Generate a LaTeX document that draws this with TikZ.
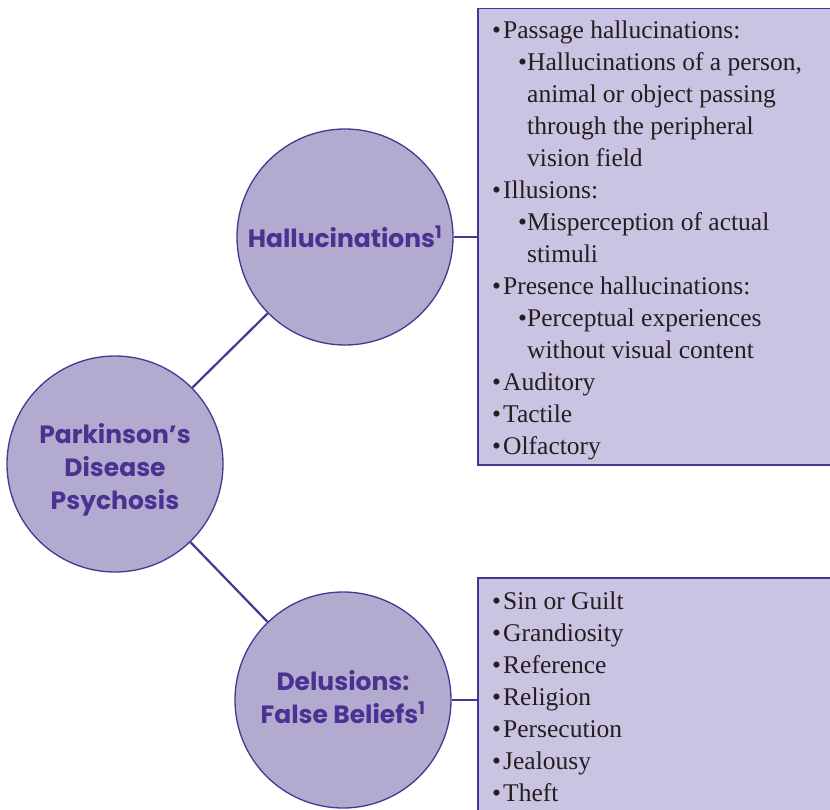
\documentclass[tikz,border=0pt]{standalone}
\usepackage{fontspec}
\setmainfont{Liberation Serif}
\newfontfamily\circfont{Poppins}
\definecolor{circfill}{HTML}{B2AACF}
\definecolor{boxfill}{HTML}{CAC3E2}
\definecolor{edge}{HTML}{4A3592}
\definecolor{circtext}{HTML}{4A3292}
\definecolor{bodytext}{HTML}{231F20}
\newcommand\Ba[1]{\makebox[11pt][l]{\textbullet}#1}
\newcommand\Bb[1]{\hspace*{26pt}\makebox[9pt][l]{\textbullet}#1}
\newcommand\Bc[1]{\hspace*{35pt}#1}
\newcommand\stacked[2]{\raisebox{0pt}[\dimexpr\height+#1\relax][\depth]{\begin{tabular}{@{}c@{}}#2\end{tabular}}}
\tikzset{
  bubble/.style={circle, draw=edge, line width=1.3pt, fill=circfill, minimum size=216pt, inner sep=0pt,
    font=\circfont\bfseries\fontsize{25}{33}\selectfont, text=circtext, align=center},
  listbox/.style={rectangle, draw=edge, line width=1.5pt, fill=boxfill, inner sep=0pt, anchor=north west},
  listtext/.style={anchor=north west, inner sep=0pt, align=left, text=bodytext,
    font=\fontsize{25.5}{32}\selectfont},
  link/.style={draw=edge, line width=2.2pt}
}
\begin{document}
\begin{tikzpicture}[x=1pt,y=-1pt]
\useasboundingbox (0,0) rectangle (830,810);
\clip (0,0) rectangle (830,810);
\node[listbox, minimum width=380pt, minimum height=456pt] (hbox) at (477,8) {};
\node[listbox, minimum width=380pt, minimum height=260pt] (dbox) at (477,577) {};
\node[bubble] (pdp) at (115,464) {\stacked{11pt}{Parkinson’s\\Disease\\Psychosis}};
\node[bubble] (hal) at (345,237) {Hallucinations\textsuperscript{1}};
\node[bubble] (del) at (343,700) {\stacked{0pt}{Delusions:\\False Beliefs\textsuperscript{1}}};
\draw[link] (pdp) -- (hal);
\draw[link] (pdp) -- (del);
\draw[link] (hal.east) -- (hal.east -| hbox.west);
\draw[link] (del.east) -- (del.east -| dbox.west);
\node[listtext] (htext) at (492,21) {%
\Ba{Passage hallucinations:}\\
\Bb{Hallucinations of a person,}\\
\Bc{animal or object passing}\\
\Bc{through the peripheral}\\
\Bc{vision field}\\
\Ba{Illusions:}\\
\Bb{Misperception of actual}\\
\Bc{stimuli}\\
\Ba{Presence hallucinations:}\\
\Bb{Perceptual experiences}\\
\Bc{without visual content}\\
\Ba{Auditory}\\
\Ba{Tactile}\\
\Ba{Olfactory}};
\node[listtext] (dtext) at (492,592) {%
\Ba{Sin or Guilt}\\
\Ba{Grandiosity}\\
\Ba{Reference}\\
\Ba{Religion}\\
\Ba{Persecution}\\
\Ba{Jealousy}\\
\Ba{Theft}};
\end{tikzpicture}
\end{document}
